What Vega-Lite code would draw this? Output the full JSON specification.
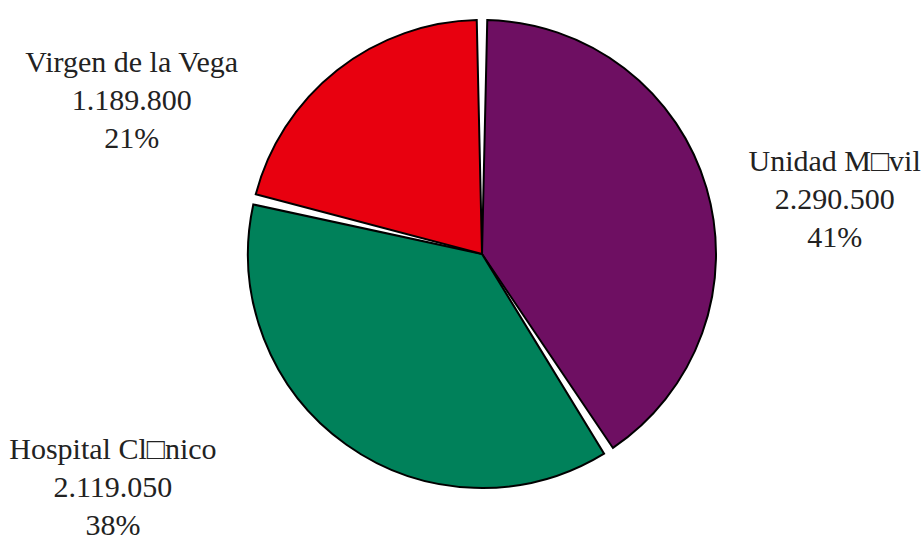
{
  "$schema": "https://vega.github.io/schema/vega-lite/v6.json",
  "autosize": "none",
  "width": 882,
  "height": 508,
  "padding": {"left": 41, "right": 0, "top": 0, "bottom": 33},
  "background": "white",
  "view": {"stroke": null},
  "data": {
    "values": [
      {"name": "Unidad M□vil", "value": 2290500, "order": 1, "label": ["Unidad M□vil", "2.290.500", "41%"]},
      {"name": "Hospital Cl□nico", "value": 2119050, "order": 2, "label": ["Hospital Cl□nico", "2.119.050", "38%"]},
      {"name": "Virgen de la Vega", "value": 1189800, "order": 3, "label": ["Virgen de la Vega", "1.189.800", "21%"]}
    ]
  },
  "encoding": {
    "theta": {"field": "value", "type": "quantitative", "stack": true},
    "order": {"field": "order", "type": "quantitative"}
  },
  "layer": [
    {
      "mark": {"type": "arc", "radius": 234, "padAngle": 0.045, "stroke": "black", "strokeWidth": 2},
      "encoding": {
        "color": {
          "field": "name",
          "type": "nominal",
          "scale": {
            "domain": ["Unidad M□vil", "Hospital Cl□nico", "Virgen de la Vega"],
            "range": ["#6E0F62", "#00815A", "#E8000F"]
          },
          "legend": null
        }
      }
    },
    {
      "mark": {
        "type": "text",
        "radius": 330,
        "font": "Liberation Serif",
        "fontSize": 30,
        "lineHeight": 38,
        "color": "#222222",
        "align": "center",
        "baseline": "middle",
        "dx": {"expr": "datum.order == 1 ? 36 : datum.order == 2 ? -178 : -146"},
        "dy": {"expr": "datum.order == 1 ? 1 : datum.order == 2 ? -73 : 68"}
      },
      "encoding": {
        "text": {"field": "label"}
      }
    }
  ]
}
